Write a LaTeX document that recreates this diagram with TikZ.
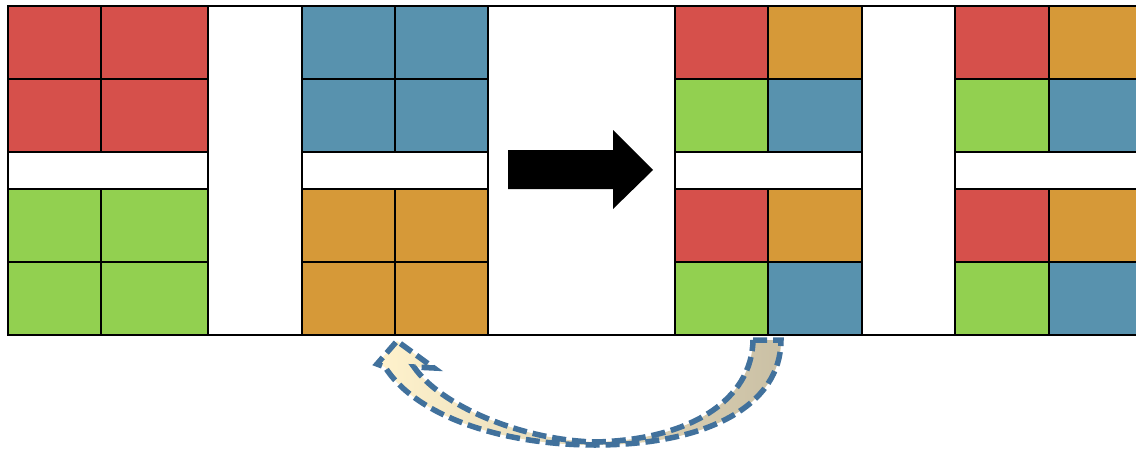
\documentclass[tikz,border=0pt]{standalone}
\usetikzlibrary{calc}
\definecolor{cred}{RGB}{214,80,75}
\definecolor{corange}{RGB}{214,153,56}
\definecolor{cgreen}{RGB}{146,208,80}
\definecolor{cblue}{RGB}{88,146,174}
\definecolor{ccream}{RGB}{255,242,204}
\definecolor{ctan}{RGB}{202,192,165}
\definecolor{cborder}{RGB}{65,113,156}
\tikzset{
  cell/.style={draw=black, line width=2pt},
  frameline/.style={draw=black, line width=2pt},
  bigarrow/.style={fill=black},
  curvedarrow/.style={draw=cborder, line width=5.5pt, dash pattern=on 14pt off 6pt,
    left color=ccream, middle color=ccream, right color=ctan, shading angle=90},
}
\newcommand{\blockcells}[7]{%
  \path[cell, fill=#4] (#1,6) rectangle (#2,79);
  \path[cell, fill=#5] (#2,6) rectangle (#3,79);
  \path[cell, fill=#6] (#1,79) rectangle (#2,152);
  \path[cell, fill=#7] (#2,79) rectangle (#3,152);
  \path[cell, fill=white] (#1,152) rectangle (#3,189);
}
\newcommand{\blocklow}[7]{%
  \path[cell, fill=#4] (#1,189) rectangle (#2,262);
  \path[cell, fill=#5] (#2,189) rectangle (#3,262);
  \path[cell, fill=#6] (#1,262) rectangle (#2,335);
  \path[cell, fill=#7] (#2,262) rectangle (#3,335);
}
\begin{document}
\begin{tikzpicture}[x=1pt,y=-1pt]
\useasboundingbox (0,0) rectangle (1136,450);
\begin{scope}
\clip (0,0) rectangle (1136,450);
\fill[white] (0,0) rectangle (1136,450);
% block 1
\blockcells{8}{101}{208}{cred}{cred}{cred}{cred}
\blocklow{8}{101}{208}{cgreen}{cgreen}{cgreen}{cgreen}
% block 2
\blockcells{302}{395}{488}{cblue}{cblue}{cblue}{cblue}
\blocklow{302}{395}{488}{corange}{corange}{corange}{corange}
% block 3
\blockcells{675}{768}{862}{cred}{corange}{cgreen}{cblue}
\blocklow{675}{768}{862}{cred}{corange}{cgreen}{cblue}
% block 4
\blockcells{955}{1049}{1143}{cred}{corange}{cgreen}{cblue}
\blocklow{955}{1049}{1143}{cred}{corange}{cgreen}{cblue}
% outer frame
\draw[frameline] (8,6) rectangle (1143,335);
% named anchors
\coordinate (b2) at (395,335);
\coordinate (b3) at (768,335);
% black arrow
\fill[bigarrow] (508,150) -- (613,150) -- (613,130) -- (653,170) -- (613,209) -- (613,189) -- (508,189) -- cycle;
% curved arrow from block 3 back to block 2
\path[curvedarrow]
  ($(b3)+(-15,5)$) -- ($(b3)+(13,5)$)
  .. controls (781,405) and (708,445) .. (595,445)
  .. controls (500,445) and (415,415) .. (385,367)
  -- (377,364) -- ($(b2)+(2,6)$) -- (434,368) -- (414,367)
  .. controls (440,405) and (520,440) .. (595,442)
  .. controls (690,440) and (752,400) .. ($(b3)+(-15,5)$) -- cycle;
\end{scope}
\end{tikzpicture}
\end{document}
